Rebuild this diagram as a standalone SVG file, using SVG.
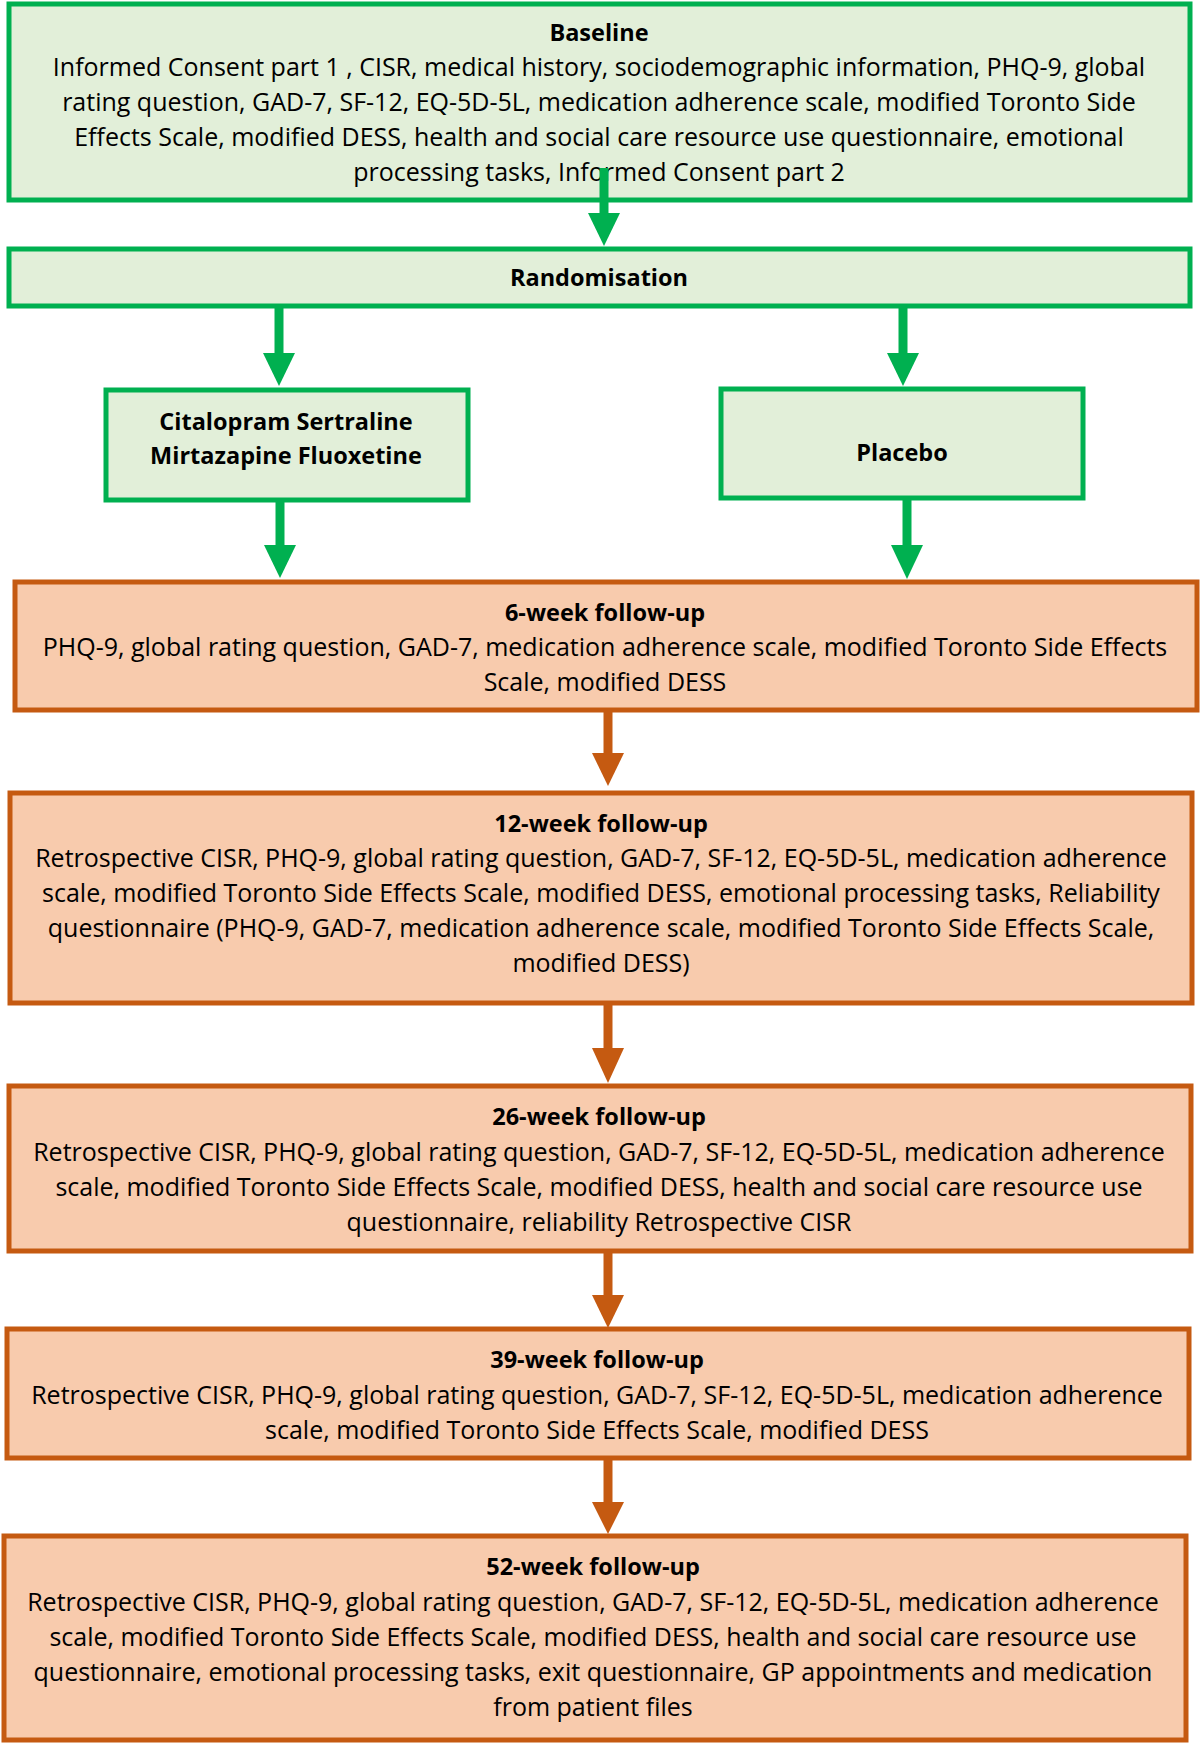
<svg xmlns="http://www.w3.org/2000/svg" width="1200" height="1743" viewBox="0 0 1200 1743">
<style>
.g{fill:#E2EFD9;stroke:#00B050;stroke-width:5}
.o{fill:#F8CBAD;stroke:#C55A11;stroke-width:5}
text{font-family:"Open Sans","Liberation Sans",sans-serif;font-size:25px;fill:#000;text-anchor:middle}
.t{font-weight:bold;font-size:23.5px}
.sg{stroke:#00B050;stroke-width:9;fill:none}
.so{stroke:#C55A11;stroke-width:9;fill:none}
.hg{fill:#00B050}
.ho{fill:#C55A11}
</style>
<rect width="1200" height="1743" fill="#fff"/>
<g id="baseline">
<rect class="g" x="9" y="4" width="1181" height="196"/>
<text class="t" x="599" y="41">Baseline</text>
<text x="599" y="76">Informed Consent part 1 , CISR, medical history, sociodemographic information, PHQ-9, global</text>
<text x="599" y="111">rating question, GAD-7, SF-12, EQ-5D-5L, medication adherence scale, modified Toronto Side</text>
<text x="599" y="146">Effects Scale, modified DESS, health and social care resource use questionnaire, emotional</text>
<text x="599" y="181">processing tasks, Informed Consent part 2</text>
</g>
<g id="randomisation">
<rect class="g" x="9" y="249" width="1181" height="57"/>
<text class="t" x="599" y="286">Randomisation</text>
</g>
<g id="drugs">
<rect class="g" x="106" y="390" width="362" height="110"/>
<text class="t" x="286" y="430">Citalopram Sertraline</text>
<text class="t" x="286" y="464">Mirtazapine Fluoxetine</text>
</g>
<g id="placebo">
<rect class="g" x="721" y="389" width="362" height="109"/>
<text class="t" x="902" y="461">Placebo</text>
</g>
<g id="week6">
<rect class="o" x="15" y="582" width="1182" height="128"/>
<text class="t" x="605" y="621">6-week follow-up</text>
<text x="605" y="656">PHQ-9, global rating question, GAD-7, medication adherence scale, modified Toronto Side Effects</text>
<text x="605" y="691">Scale, modified DESS</text>
</g>
<g id="week12">
<rect class="o" x="10" y="793" width="1182" height="210"/>
<text class="t" x="601" y="832">12-week follow-up</text>
<text x="601" y="867">Retrospective CISR, PHQ-9, global rating question, GAD-7, SF-12, EQ-5D-5L, medication adherence</text>
<text x="601" y="902">scale, modified Toronto Side Effects Scale, modified DESS, emotional processing tasks, Reliability</text>
<text x="601" y="937">questionnaire (PHQ-9, GAD-7, medication adherence scale, modified Toronto Side Effects Scale,</text>
<text x="601" y="972">modified DESS)</text>
</g>
<g id="week26">
<rect class="o" x="9" y="1086" width="1182" height="165"/>
<text class="t" x="599" y="1125">26-week follow-up</text>
<text x="599" y="1161">Retrospective CISR, PHQ-9, global rating question, GAD-7, SF-12, EQ-5D-5L, medication adherence</text>
<text x="599" y="1196">scale, modified Toronto Side Effects Scale, modified DESS, health and social care resource use</text>
<text x="599" y="1231">questionnaire, reliability Retrospective CISR</text>
</g>
<g id="week39">
<rect class="o" x="7" y="1329" width="1182" height="129"/>
<text class="t" x="597" y="1368">39-week follow-up</text>
<text x="597" y="1404">Retrospective CISR, PHQ-9, global rating question, GAD-7, SF-12, EQ-5D-5L, medication adherence</text>
<text x="597" y="1439">scale, modified Toronto Side Effects Scale, modified DESS</text>
</g>
<g id="week52">
<rect class="o" x="4" y="1536" width="1182" height="204"/>
<text class="t" x="593" y="1575">52-week follow-up</text>
<text x="593" y="1611">Retrospective CISR, PHQ-9, global rating question, GAD-7, SF-12, EQ-5D-5L, medication adherence</text>
<text x="593" y="1646">scale, modified Toronto Side Effects Scale, modified DESS, health and social care resource use</text>
<text x="593" y="1681">questionnaire, emotional processing tasks, exit questionnaire, GP appointments and medication</text>
<text x="593" y="1716">from patient files</text>
</g>
<g id="connectors">
<line class="sg" x1="604" y1="168" x2="604" y2="216"/>
<polygon class="hg" points="588,213 620,213 604,246"/>
<line class="sg" x1="279" y1="306" x2="279" y2="356"/>
<polygon class="hg" points="263,353 295,353 279,386"/>
<line class="sg" x1="903" y1="306" x2="903" y2="356"/>
<polygon class="hg" points="887,353 919,353 903,386"/>
<line class="sg" x1="280" y1="500" x2="280" y2="548"/>
<polygon class="hg" points="264,545 296,545 280,578"/>
<line class="sg" x1="907" y1="498" x2="907" y2="548"/>
<polygon class="hg" points="891,545 923,545 907,579"/>
<line class="so" x1="608" y1="710" x2="608" y2="756"/>
<polygon class="ho" points="592,753 624,753 608,786"/>
<line class="so" x1="608" y1="1003" x2="608" y2="1051"/>
<polygon class="ho" points="592,1048 624,1048 608,1083"/>
<line class="so" x1="608" y1="1251" x2="608" y2="1298"/>
<polygon class="ho" points="592,1295 624,1295 608,1328"/>
<line class="so" x1="608" y1="1458" x2="608" y2="1505"/>
<polygon class="ho" points="592,1502 624,1502 608,1534"/>
</g>
</svg>
